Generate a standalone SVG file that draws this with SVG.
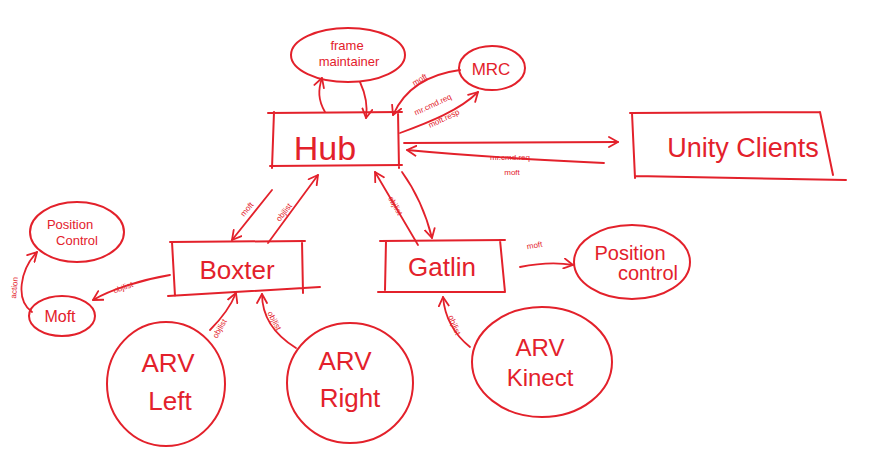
<svg xmlns="http://www.w3.org/2000/svg" width="873" height="453" viewBox="0 0 873 453">
<defs>
<marker id="ah" viewBox="0 0 12 12" refX="10" refY="6" markerWidth="12" markerHeight="12" markerUnits="userSpaceOnUse" orient="auto">
<path d="M1,1 L10,6 L1,11" fill="none" stroke="#e3212b" stroke-width="1.8" stroke-linecap="round" stroke-linejoin="round"/>
</marker>
<style>
.s{fill:none;stroke:#e3212b;stroke-width:2;stroke-linecap:round;stroke-linejoin:round}
.c{fill:none;stroke:#e3212b;stroke-width:1.8;stroke-linecap:round;marker-end:url(#ah)}
.t{fill:#e3212b;font-family:"Liberation Sans",Arial,sans-serif;text-anchor:middle}
.l{fill:#e3212b;font-family:"Liberation Sans",Arial,sans-serif;font-size:8px;text-anchor:middle}
</style>
</defs>
<rect width="873" height="453" fill="#ffffff"/>
<g id="connectors">
<path class="c" d="M325,112 C318,100 318,90 322,78"/>
<path class="c" d="M360,82 C366,95 368,105 366,118"/>
<path class="c" d="M460,70 C430,74 405,88 393,115"/>
<text class="l" transform="translate(421,82) rotate(-30)">moft</text>
<path class="c" d="M400,133 C430,122 460,110 478,92"/>
<text class="l" transform="translate(434,107) rotate(-25)">mr.cmd.req</text>
<text class="l" transform="translate(445,121) rotate(-25)">moft.resp</text>
<path class="c" d="M404,143 L618,142"/>
<path class="c" d="M604,163 C540,160 460,155 407,150"/>
<text class="l" x="510" y="160">mr.cmd.req</text>
<text class="l" x="512" y="175">moft</text>
<path class="c" d="M272,190 L232,240"/>
<text class="l" transform="translate(249,211) rotate(-50)">moft</text>
<path class="c" d="M268,243 L318,175"/>
<text class="l" transform="translate(286,214) rotate(-52)">objlist</text>
<path class="c" d="M418,245 L375,172"/>
<text class="l" transform="translate(393,207) rotate(60)">objlist</text>
<path class="c" d="M402,172 C415,190 425,210 432,238"/>
<path class="c" d="M520,267 C540,263 555,262 573,265"/>
<text class="l" x="535" y="248" transform="rotate(-10 535 248)">moft</text>
<path class="c" d="M170,275 C140,280 110,290 93,300"/>
<text class="l" transform="translate(124,290) rotate(-20)">objlist</text>
<path class="c" d="M32,312 C15,300 20,270 37,252"/>
<text class="l" transform="translate(17,288) rotate(-85)">action</text>
<path class="c" d="M210,330 C222,318 230,308 236,293"/>
<text class="l" transform="translate(222,330) rotate(-60)">objlist</text>
<path class="c" d="M296,348 C275,335 262,318 262,294"/>
<text class="l" transform="translate(272,322) rotate(62)">objlist</text>
<path class="c" d="M470,347 C455,335 445,320 443,297"/>
<text class="l" transform="translate(452,326) rotate(68)">objlist</text>
</g>
<g id="hub">
<path class="s" d="M268,113 L402,112 M274,112 L272,168 M398,112 L399,168 M270,166 L402,165"/>
<text class="t" x="325" y="160" font-size="34">Hub</text>
</g>
<g id="frame-maintainer">
<ellipse class="s" cx="348" cy="55" rx="57" ry="27"/>
<text class="t" x="347" y="50" font-size="13">frame</text>
<text class="t" x="349" y="66" font-size="13">maintainer</text>
</g>
<g id="mrc">
<ellipse class="s" cx="492" cy="68" rx="33" ry="22"/>
<text class="t" x="491" y="75" font-size="17">MRC</text>
</g>
<g id="unity-clients">
<path class="s" d="M630,113 L820,112 M632,113 L635,178 M820,112 L833,175 M635,176 L846,180"/>
<text class="t" x="743" y="157" font-size="27">Unity Clients</text>
</g>
<g id="boxter">
<path class="s" d="M170,242 L305,241 M172,242 L175,296 M302,241 L303,293 M168,296 L320,287"/>
<text class="t" x="237" y="279" font-size="26">Boxter</text>
</g>
<g id="gatlin">
<path class="s" d="M380,241 L505,240 M386,241 L385,290 M500,240 L505,292 M378,292 L505,292"/>
<text class="t" x="442" y="276" font-size="26">Gatlin</text>
</g>
<g id="position-control-right">
<ellipse class="s" cx="632" cy="262" rx="58" ry="37"/>
<text class="t" x="630" y="260" font-size="20">Position</text>
<text class="t" x="648" y="280" font-size="20">control</text>
</g>
<g id="position-control-left">
<ellipse class="s" cx="77" cy="232" rx="47" ry="30"/>
<text class="t" x="70" y="229" font-size="13">Position</text>
<text class="t" x="77" y="245" font-size="13">Control</text>
</g>
<g id="moft">
<ellipse class="s" cx="62" cy="316" rx="33" ry="20"/>
<text class="t" x="60" y="322" font-size="16">Moft</text>
</g>
<g id="arv-left">
<ellipse class="s" cx="166" cy="384" rx="59" ry="62"/>
<text class="t" x="168" y="372" font-size="26">ARV</text>
<text class="t" x="170" y="410" font-size="26">Left</text>
</g>
<g id="arv-right">
<ellipse class="s" cx="350" cy="383" rx="63" ry="60"/>
<text class="t" x="345" y="370" font-size="26">ARV</text>
<text class="t" x="350" y="407" font-size="26">Right</text>
</g>
<g id="arv-kinect">
<ellipse class="s" cx="542" cy="362" rx="70" ry="55"/>
<text class="t" x="540" y="356" font-size="24">ARV</text>
<text class="t" x="540" y="386" font-size="24">Kinect</text>
</g>
</svg>
